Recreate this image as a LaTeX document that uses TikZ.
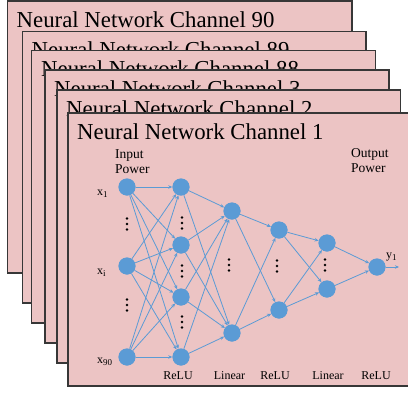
\documentclass[tikz,border=0pt]{standalone}
\usepackage{fontspec}
\setmainfont{Liberation Serif}
\usetikzlibrary{arrows.meta}
\definecolor{framefill}{RGB}{236,196,196}
\definecolor{frameline}{RGB}{55,55,55}
\definecolor{nodeblue}{RGB}{91,155,213}
\newcommand{\vdotsat}[2]{%
  \fill (#1,#2-5.5) circle (1.3) (#1,#2) circle (1.3) (#1,#2+5.5) circle (1.3);}
\newcommand{\mysub}[1]{\raisebox{-2.8pt}{\fontsize{9}{9}\selectfont #1}}
\begin{document}
\begin{tikzpicture}[x=1pt,y=-1pt,
  frame/.style={fill=framefill,draw=frameline,line width=1.1pt},
  title/.style={anchor=base west,inner sep=0pt,font=\fontsize{22.8}{27}\selectfont},
  neuron/.style={circle,fill=nodeblue,minimum size=17pt,inner sep=0pt},
  conn/.style={draw=nodeblue,line width=0.8pt,-{Stealth[length=4pt,width=3.5pt]}},
  lab/.style={inner sep=0pt,anchor=base west,font=\fontsize{12}{14}\selectfont},
  hdr/.style={inner sep=0pt,anchor=base west,font=\fontsize{13.5}{16}\selectfont},
  bot/.style={inner sep=0pt,anchor=base,font=\fontsize{12}{14}\selectfont}]
\useasboundingbox (0,0) rectangle (408,394);
% stacked frames
\path[frame] (7.5,1) rectangle (352,273);
\node[title] (t90) at (16.5,27) {Neural Network Channel 90};
\path[frame] (22.5,31.5) rectangle (366,303);
\node[title] (t89) at (31.5,57.5) {Neural Network Channel 89};
\path[frame] (31.5,50.5) rectangle (375.5,323);
\node[title] (t88) at (41,76.5) {Neural Network Channel 88};
\path[frame] (45,70) rectangle (389,343);
\node[title] (t3) at (54,96) {Neural Network Channel 3};
\path[frame] (57,90) rectangle (400.5,363);
\node[title] (t2) at (66,116.5) {Neural Network Channel 2};
\path[frame] (68,113) rectangle (414,386);
\node[title] (t1) at (77,139) {Neural Network Channel 1};
% neurons
\node[neuron] (a1) at (127,187) {};
\node[neuron] (a2) at (127,266) {};
\node[neuron] (a3) at (127,357) {};
\node[neuron] (b1) at (181,187) {};
\node[neuron] (b2) at (181,245) {};
\node[neuron] (b3) at (181,297) {};
\node[neuron] (b4) at (181,357) {};
\node[neuron] (c1) at (232,211) {};
\node[neuron] (c2) at (232,333) {};
\node[neuron] (d1) at (279,230) {};
\node[neuron] (d2) at (279,310) {};
\node[neuron] (e1) at (327,243) {};
\node[neuron] (e2) at (327,289) {};
\node[neuron] (o) at (377,267) {};
\coordinate (oend) at (399,267);
% connections
\foreach \s in {a1,a2,a3}{\foreach \t in {b1,b2,b3,b4}{\draw[conn] (\s) -- (\t);}}
\foreach \s in {b1,b2,b3,b4}{\foreach \t in {c1,c2}{\draw[conn] (\s) -- (\t);}}
\foreach \s in {c1,c2}{\foreach \t in {d1,d2}{\draw[conn] (\s) -- (\t);}}
\foreach \s in {d1,d2}{\foreach \t in {e1,e2}{\draw[conn] (\s) -- (\t);}}
\foreach \s in {e1,e2}{\draw[conn] (\s) -- (o);}
\draw[conn] (o) -- (oend);
% redraw neurons on top
\foreach \n in {a1,a2,a3,b1,b2,b3,b4,c1,c2,d1,d2,e1,e2,o}{\fill[nodeblue] (\n) circle (8.5);}
% vertical dots
\vdotsat{127}{224}
\vdotsat{127}{305}
\vdotsat{182}{223}
\vdotsat{182}{271}
\vdotsat{182}{322}
\vdotsat{229}{265}
\vdotsat{277}{266}
\vdotsat{325}{265}
% labels
\node[hdr] (in1) at (115,158) {Input};
\node[hdr] (in2) at (115,173.5) {Power};
\node[hdr] (out1) at (351,157) {Output};
\node[hdr] (out2) at (351,172.5) {Power};
\node[lab] (lx1) at (97,195) {x\mysub{1}};
\node[lab] (lxi) at (97,274) {x\mysub{i}};
\node[lab] (lx90) at (97,363) {x\mysub{90}};
\node[lab] (ly1) at (386,258) {y\mysub{1}};
\node[bot] (r1) at (178,379) {ReLU};
\node[bot] (l1) at (229.5,379) {Linear};
\node[bot] (r2) at (275,379) {ReLU};
\node[bot] (l2) at (328,379) {Linear};
\node[bot] (r3) at (376,379) {ReLU};
\end{tikzpicture}
\end{document}
